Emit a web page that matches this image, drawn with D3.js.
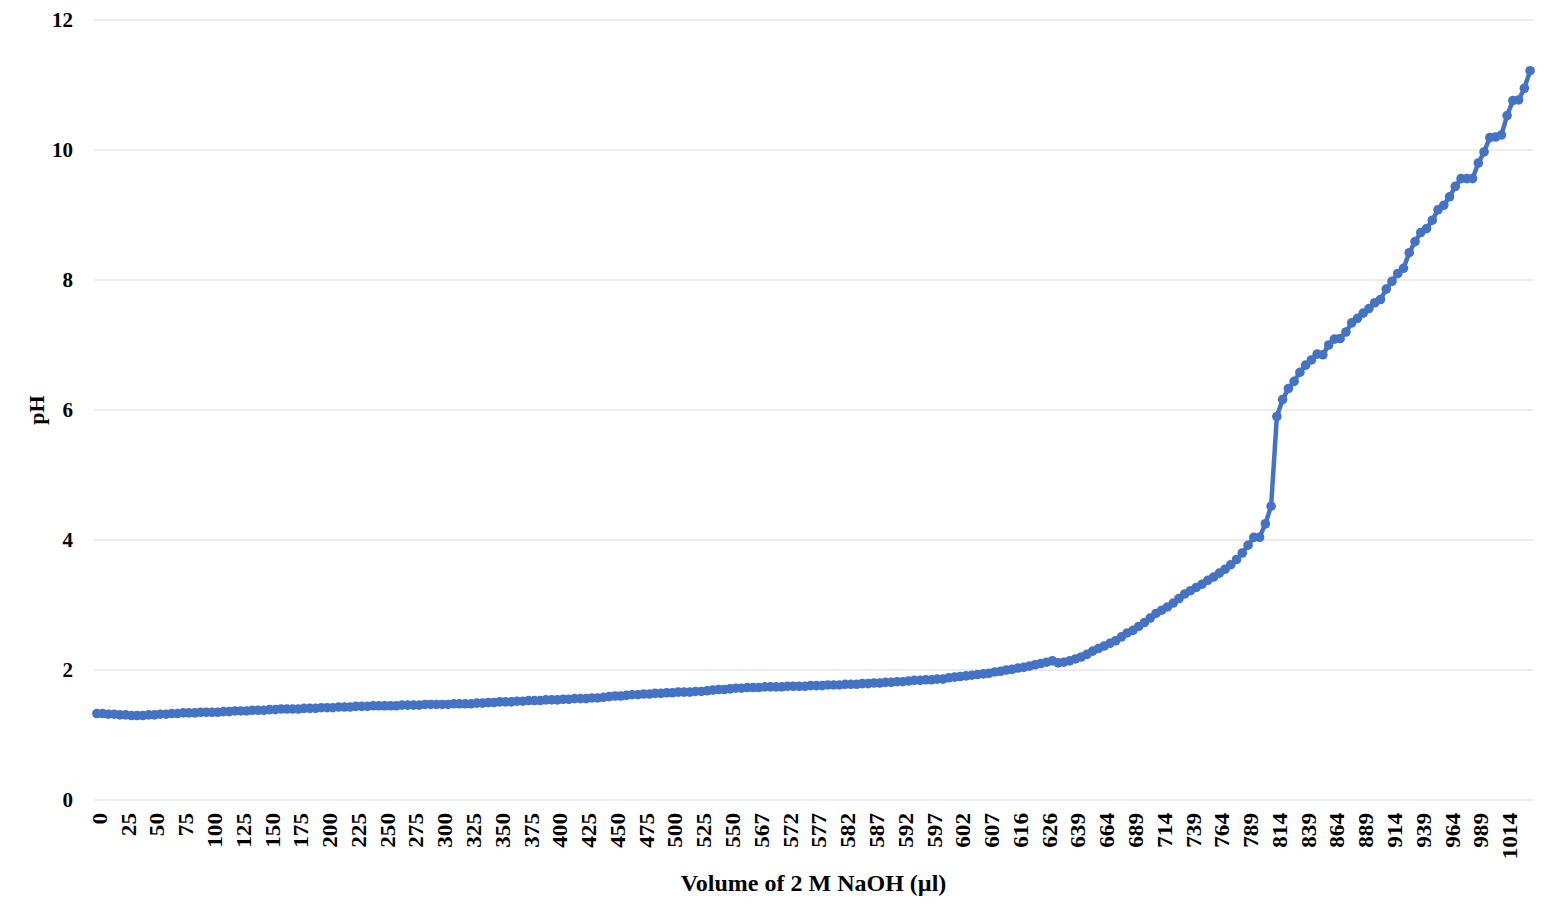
<!DOCTYPE html>
<html>
<head>
<meta charset="utf-8">
<script src="https://cdn.jsdelivr.net/npm/d3@7/dist/d3.min.js"></script>
<style>
  html, body { margin: 0; padding: 0; background: #fff; }
  svg { display: block; font-family: 'Liberation Serif', 'Times New Roman', serif; }
</style>
</head>
<body>
<div id="chart"></div>
<script>
// volume of 2 M NaOH added (µl), one entry per reading
const volume = [
  0, 5, 10, 15, 20, 25, 30, 35, 40, 45, 50, 55, 60, 65, 70, 75, 80, 85, 90, 95,
  100, 105, 110, 115, 120, 125, 130, 135, 140, 145, 150, 155, 160, 165, 170, 175, 180, 185, 190, 195,
  200, 205, 210, 215, 220, 225, 230, 235, 240, 245, 250, 255, 260, 265, 270, 275, 280, 285, 290, 295,
  300, 305, 310, 315, 320, 325, 330, 335, 340, 345, 350, 355, 360, 365, 370, 375, 380, 385, 390, 395,
  400, 405, 410, 415, 420, 425, 430, 435, 440, 445, 450, 455, 460, 465, 470, 475, 480, 485, 490, 495,
  500, 505, 510, 515, 520, 525, 530, 535, 540, 545, 550, 555, 560, 563, 565, 567, 568, 569, 570, 571,
  572, 573, 574, 575, 576, 577, 578, 579, 580, 581, 582, 583, 584, 585, 586, 587, 588, 589, 590, 591,
  592, 593, 594, 595, 596, 597, 598, 599, 600, 601, 602, 603, 604, 605, 606, 607, 609, 611, 612, 614,
  616, 618, 620, 622, 624, 626, 628, 631, 633, 636, 639, 644, 649, 654, 659, 664, 669, 674, 679, 684,
  689, 694, 699, 704, 709, 714, 719, 724, 729, 734, 739, 744, 749, 754, 759, 764, 769, 774, 779, 784,
  789, 794, 799, 804, 809, 814, 819, 824, 829, 834, 839, 844, 849, 854, 859, 864, 869, 874, 879, 884,
  889, 894, 899, 904, 909, 914, 919, 924, 929, 934, 939, 944, 949, 954, 959, 964, 969, 974, 979, 984,
  989, 994, 999, 1004, 1009, 1014, 1019, 1024, 1029, 1034
];

// measured pH at each volume
const pH = [
  1.33, 1.33, 1.32, 1.32, 1.31, 1.31, 1.30, 1.30, 1.30, 1.31,
  1.31, 1.32, 1.32, 1.33, 1.33, 1.34, 1.34, 1.34, 1.35, 1.35,
  1.35, 1.35, 1.36, 1.36, 1.37, 1.37, 1.37, 1.38, 1.38, 1.38,
  1.39, 1.39, 1.40, 1.40, 1.40, 1.40, 1.41, 1.41, 1.41, 1.42,
  1.42, 1.42, 1.43, 1.43, 1.43, 1.44, 1.44, 1.44, 1.45, 1.45,
  1.45, 1.45, 1.45, 1.46, 1.46, 1.46, 1.46, 1.47, 1.47, 1.47,
  1.47, 1.47, 1.48, 1.48, 1.48, 1.48, 1.49, 1.49, 1.50, 1.50,
  1.51, 1.51, 1.51, 1.52, 1.52, 1.53, 1.53, 1.53, 1.54, 1.54,
  1.54, 1.55, 1.55, 1.56, 1.56, 1.56, 1.57, 1.57, 1.58, 1.59,
  1.60, 1.60, 1.61, 1.62, 1.62, 1.63, 1.63, 1.64, 1.64, 1.65,
  1.65, 1.66, 1.66, 1.66, 1.67, 1.67, 1.68, 1.69, 1.70, 1.70,
  1.71, 1.72, 1.72, 1.73, 1.73, 1.73, 1.74, 1.74, 1.74, 1.74,
  1.75, 1.75, 1.75, 1.75, 1.76, 1.76, 1.76, 1.77, 1.77, 1.77,
  1.78, 1.78, 1.78, 1.79, 1.79, 1.80, 1.80, 1.81, 1.81, 1.82,
  1.82, 1.83, 1.84, 1.84, 1.85, 1.85, 1.86, 1.86, 1.88, 1.89,
  1.90, 1.91, 1.92, 1.93, 1.94, 1.95, 1.97, 1.98, 2.00, 2.01,
  2.03, 2.04, 2.06, 2.08, 2.10, 2.12, 2.14, 2.11, 2.12, 2.14,
  2.17, 2.20, 2.24, 2.29, 2.33, 2.37, 2.41, 2.45, 2.51, 2.57,
  2.61, 2.67, 2.73, 2.80, 2.87, 2.92, 2.97, 3.03, 3.10, 3.17,
  3.22, 3.27, 3.32, 3.38, 3.43, 3.49, 3.55, 3.62, 3.70, 3.80,
  3.92, 4.04, 4.04, 4.25, 4.52, 5.90, 6.16, 6.33, 6.44, 6.58,
  6.69, 6.77, 6.86, 6.85, 7.00, 7.09, 7.10, 7.20, 7.34, 7.41,
  7.49, 7.56, 7.65, 7.70, 7.86, 7.98, 8.10, 8.18, 8.42, 8.59,
  8.73, 8.79, 8.92, 9.08, 9.15, 9.28, 9.44, 9.56, 9.56, 9.56,
  9.80, 9.97, 10.19, 10.20, 10.23, 10.53, 10.76, 10.77, 10.95, 11.22
];

const yTicks = [0, 2, 4, 6, 8, 10, 12];
const xTitle = 'Volume of 2 M NaOH (µl)';
const yTitle = 'pH';

const width = 1548;
const height = 907;
const plot = { left: 94, right: 1533, top: 20, bottom: 800 };

const svg = d3.select('#chart').append('svg').attr('width', width).attr('height', height);

const x = d3.scaleBand(volume, [plot.left, plot.right]).padding(0);
const cx = (v) => x(v) + x.bandwidth() / 2;
const y = d3.scaleLinear([0, 12], [plot.bottom, plot.top]);

// horizontal gridlines
svg.append('g').selectAll('line').data(yTicks).join('line')
  .attr('x1', plot.left).attr('x2', plot.right)
  .attr('y1', (d) => y(d)).attr('y2', (d) => y(d))
  .attr('stroke', '#d9d9d9').attr('stroke-width', 1.2);

// y axis labels
const yAxis = svg.append('g').attr('transform', `translate(${plot.left},0)`)
  .call(d3.axisLeft(y).tickValues(yTicks).tickSize(0).tickPadding(21).tickFormat(d3.format('d')))
  .attr('font-family', null).attr('font-size', null);
yAxis.select('.domain').remove();
yAxis.selectAll('text').attr('font-size', 21).attr('font-weight', 'bold').attr('fill', '#000');

// x axis labels, every 5th reading, rotated
const xTicks = volume.filter((d, i) => i % 5 === 0);
svg.append('g').selectAll('text').data(xTicks).join('text')
  .attr('transform', (d) => `translate(${cx(d) + 3},813) rotate(-90) scale(1.16,1)`)
  .attr('text-anchor', 'end').attr('dy', '0.35em')
  .attr('font-size', 20).attr('font-weight', 'bold').attr('fill', '#000')
  .text((d) => d);

// axis titles
svg.append('text').attr('x', (plot.left + plot.right) / 2).attr('y', 891)
  .attr('text-anchor', 'middle').attr('font-size', 24).attr('font-weight', 'bold').text(xTitle);
svg.append('text').attr('transform', `translate(36,${(plot.top + plot.bottom) / 2}) rotate(-90)`)
  .attr('text-anchor', 'middle').attr('dy', '0.35em').attr('font-size', 22).attr('font-weight', 'bold').text(yTitle);

// titration curve
const series = volume.map((v, i) => ({ v, ph: pH[i] }));
const line = d3.line().x((d) => cx(d.v)).y((d) => y(d.ph));
svg.append('path').datum(series).attr('fill', 'none').attr('stroke', '#4472c4')
  .attr('stroke-width', 4.5).attr('stroke-linejoin', 'round').attr('d', line);
svg.append('g').selectAll('circle').data(series).join('circle')
  .attr('cx', (d) => cx(d.v)).attr('cy', (d) => y(d.ph)).attr('r', 4.8)
  .attr('fill', '#4472c4');
</script>
</body>
</html>
